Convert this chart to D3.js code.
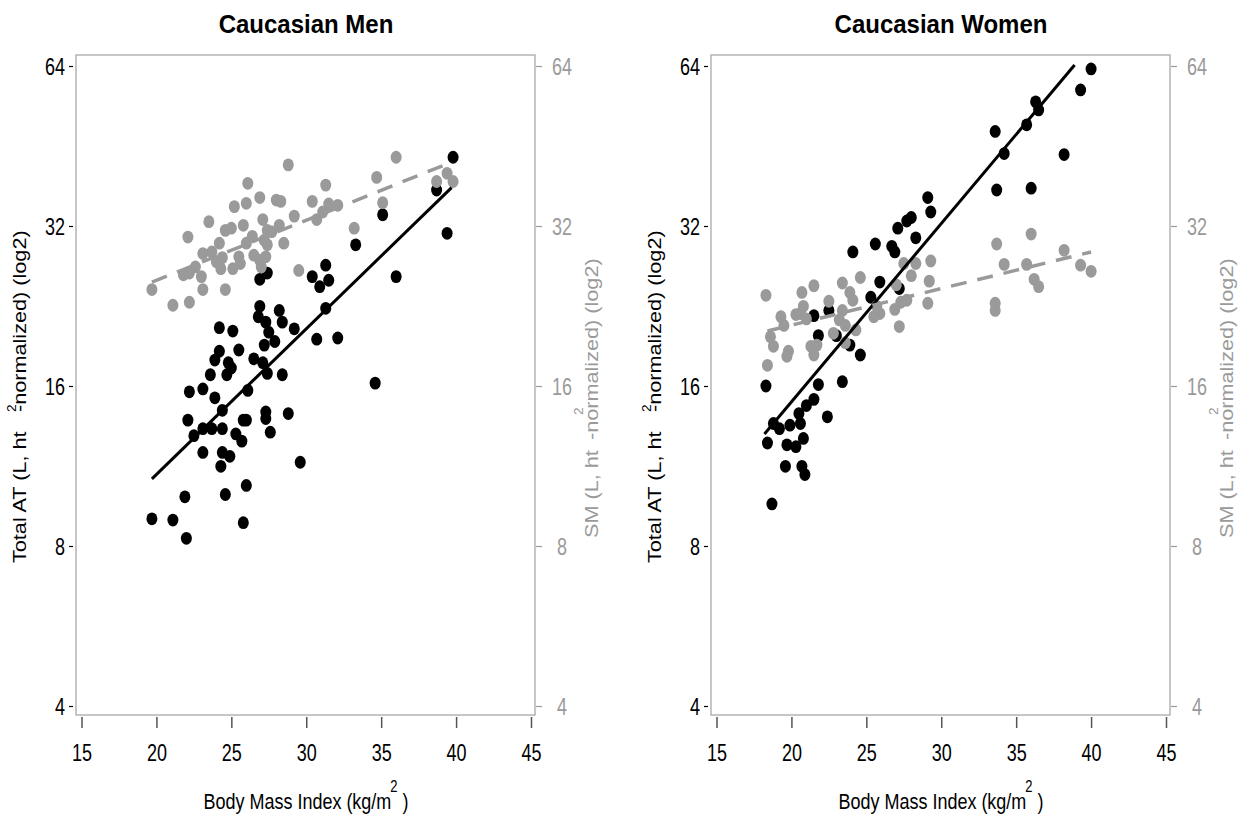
<!DOCTYPE html>
<html><head><meta charset="utf-8">
<script src="https://cdn.jsdelivr.net/npm/d3@7"></script>
<style>body{margin:0;background:#fff}svg{display:block}</style>
</head><body>
<svg id="c" width="1255" height="819"></svg>
<script>
// ---------- data ----------
const titles = ["Caucasian Men", "Caucasian Women"];
const xTicks = [15, 20, 25, 30, 35, 40, 45];
const yTicks = [4, 8, 16, 32, 64];

// Men: total adipose tissue (black)
const menATBMI = [39.8,38.7,39.4,35.1,33.3,36.0,31.3,30.4,31.5,30.9,27.4,26.9,31.3,26.9,26.8,27.3,27.5,28.2,28.4,29.2,30.7,32.1,24.2,25.1,27.2,27.9,25.5,24.2,23.9,24.8,25.0,26.5,27.1,27.4,28.4,24.7,23.6,22.2,23.1,23.9,26.1,24.4,22.1,22.5,23.1,23.7,24.4,25.8,26.0,25.3,25.7,27.3,27.3,28.8,27.6,23.1,24.4,24.9,24.3,29.6,34.6,26.0,24.6,21.9,19.7,21.1,22.0,25.8];
const menAT    = [43.1,37.4,31.0,33.6,29.5,25.7,27.0,25.7,25.3,24.6,26.1,25.4,22.4,22.6,21.6,21.1,20.2,22.2,21.1,20.5,19.6,19.7,20.6,20.3,19.1,19.4,18.7,18.6,17.9,17.7,17.3,18.0,17.7,16.9,16.8,16.8,16.8,15.6,15.8,15.2,15.7,14.4,13.8,12.9,13.3,13.3,13.3,13.8,13.8,13.0,12.6,14.3,13.9,14.2,13.1,12.0,12.0,11.8,11.3,11.5,16.2,10.4,10.0,9.9,9.0,8.95,8.27,8.85];
// Men: skeletal muscle (grey)
const menSMBMI = [19.7,21.1,22.2,22.1,21.8,22.2,23.0,23.1,24.6,23.5,23.1,23.7,24.0,24.3,24.2,24.6,25.0,25.2,26.0,26.1,26.9,25.8,26.0,25.5,25.1,26.5,27.1,27.4,27.2,27.4,26.9,27.3,27.0,28.0,28.3,28.2,28.5,27.7,28.8,29.2,29.5,30.4,30.7,31.1,31.3,31.5,32.1,33.2,34.7,35.1,36.0,38.7,39.4,39.8,24.4,25.6,22.6,26.4];
const menSM    = [24.3,22.7,23.0,30.5,25.9,26.1,25.7,24.3,24.3,32.6,28.4,28.6,27.4,26.6,29.7,31.4,31.7,34.8,35.3,38.5,36.2,32.1,29.7,28.0,26.6,28.2,32.9,31.4,30.1,29.5,27.6,28.0,26.8,35.8,35.6,32.1,29.7,31.2,41.7,33.4,26.4,35.6,32.9,34.0,38.2,35.2,35.0,31.7,39.5,35.4,43.1,38.8,40.2,38.8,27.9,27.2,26.8,30.6];

// Women: total adipose tissue (black)
const womenATBMI = [40.0,39.3,36.3,36.5,35.7,33.6,34.2,38.2,33.7,36.0,29.1,29.3,28.0,27.7,27.1,28.3,25.6,24.1,26.7,26.9,25.9,27.2,25.3,21.5,22.5,21.8,23.0,23.9,24.6,18.3,21.8,23.4,21.5,21.0,22.4,20.5,18.8,19.2,19.9,20.6,20.8,18.4,19.7,20.3,19.6,20.7,20.9,18.7];
const womenAT    = [63.2,57.7,54.8,52.9,49.6,48.2,43.8,43.6,37.4,37.7,36.2,34.0,33.2,32.7,31.7,30.4,29.6,28.6,29.3,28.6,25.1,24.4,23.5,21.7,22.2,19.9,19.9,19.1,18.3,16.0,16.1,16.3,15.1,14.7,14.0,14.2,13.6,13.3,13.5,13.6,12.75,12.5,12.4,12.3,11.3,11.3,10.9,9.6];
// Women: skeletal muscle (grey)
const womenSMBMI = [36.0,33.7,38.2,34.2,35.7,39.3,40.0,36.2,36.5,29.3,28.3,29.2,28.0,27.5,27.0,24.6,23.4,21.5,20.7,18.3,33.6,33.6,29.1,27.7,27.3,26.9,27.2,25.7,25.5,25.9,23.9,24.1,22.5,23.4,23.2,23.6,24.3,22.8,23.6,20.8,20.3,20.6,21.0,19.3,19.5,18.6,18.8,19.8,19.7,21.3,21.7,21.5,18.4];
const womenSM    = [30.9,29.6,28.8,27.1,27.1,27.0,26.3,25.4,24.6,27.5,27.2,25.2,25.8,27.2,24.8,25.6,25.0,24.7,24.0,23.7,22.9,22.2,22.9,23.2,23.0,22.3,20.7,22.6,21.6,21.9,24.0,23.2,23.1,22.2,21.3,20.8,20.4,20.1,19.3,22.6,21.8,21.9,21.4,21.6,20.8,19.8,19.0,18.6,18.2,19.0,19.1,18.3,17.5];

// fitted lines (BMI ends, fitted values)
const menATFitBMI = [19.7, 39.7], menATFitVal = [10.7, 37.8];
const menSMFitBMI = [19.7, 39.7], menSMFitVal = [25.1, 42.2];
const womenATFitBMI = [18.2, 38.9], womenATFitVal = [13.0, 64.3];
const womenSMFitBMI = [18.4, 40.0], womenSMFitVal = [20.3, 28.6];

// ---------- drawing ----------
const FONT = "'Liberation Sans', Arial, Helvetica, sans-serif";
const GREY = "#9a9a9a";
const svg = d3.select("#c");

const panels = [
  {x0: 76, title: titles[0], at: [menATBMI, menAT], sm: [menSMBMI, menSM],
   atFit: [menATFitBMI, menATFitVal], smFit: [menSMFitBMI, menSMFitVal]},
  {x0: 711, title: titles[1], at: [womenATBMI, womenAT], sm: [womenSMBMI, womenSM],
   atFit: [womenATFitBMI, womenATFitVal], smFit: [womenSMFitBMI, womenSMFitVal]}
];

function txt(g, x, y, s, o) {
  o = o || {};
  const k = o.k || 1;
  return g.append("text")
    .attr("transform", `translate(${x},${y}) scale(1,${k})` + (o.rot ? " rotate(-90)" : ""))
    .attr("font-family", FONT)
    .attr("font-size", o.size || 18)
    .attr("font-weight", o.weight || "normal")
    .attr("text-anchor", o.anchor || "start")
    .attr("fill", o.fill || "#000")
    .text(s);
}

panels.forEach(p => {
  const g = svg.append("g");
  const W = 459, top = 55, bottom = 715;
  const x1 = p.x0 + W;
  const x = d3.scaleLinear().domain([15, 45]).range([p.x0 + 5.5, p.x0 + 455]);
  const y = d3.scaleLog().base(2).domain([4, 64]).range([706, 66]);

  // frame
  g.append("rect").attr("x", p.x0).attr("y", top).attr("width", W).attr("height", bottom - top)
    .attr("fill", "none").attr("stroke", "#a8a8a8").attr("stroke-width", 1.3);

  // bottom axis
  const ax = g.append("g").attr("transform", "translate(0,717)")
    .call(d3.axisBottom(x).tickValues(xTicks).tickSize(11).tickFormat(d3.format("d")));
  ax.select(".domain").remove();
  ax.selectAll(".tick line").attr("stroke", "#555").attr("stroke-width", 1.5);
  ax.selectAll(".tick text").attr("y", null).attr("dy", null)
    .attr("transform", "translate(0,43.5) scale(1,1.3)")
    .attr("font-family", FONT).attr("font-size", 18).attr("fill", "#000");

  // left axis
  const al = g.append("g").attr("transform", `translate(${p.x0 - 3},0)`)
    .call(d3.axisLeft(y).tickValues(yTicks).tickSize(4).tickFormat(d3.format("d")));
  al.select(".domain").remove();
  al.selectAll(".tick line").attr("stroke", "#000").attr("stroke-width", 1.2);
  al.selectAll(".tick text").attr("x", null).attr("dy", null)
    .attr("transform", "translate(-8,8.4) scale(1,1.3)")
    .attr("font-family", FONT).attr("font-size", 18).attr("fill", "#000");

  // right axis (grey)
  const ar = g.append("g").attr("transform", `translate(${x1 + 1},0)`)
    .call(d3.axisRight(y).tickValues(yTicks).tickSize(6).tickFormat(d3.format("d")));
  ar.select(".domain").remove();
  ar.selectAll(".tick line").attr("stroke", GREY).attr("stroke-width", 1.2);
  ar.selectAll(".tick text").attr("x", null).attr("dy", null)
    .attr("text-anchor", "middle")
    .attr("transform", "translate(26,8.4) scale(1,1.3)")
    .attr("font-family", FONT).attr("font-size", 18).attr("fill", GREY);

  // points
  const atPts = d3.zip(p.at[0], p.at[1]);
  const smPts = d3.zip(p.sm[0], p.sm[1]);
  g.append("g").selectAll("ellipse").data(atPts).join("ellipse")
    .attr("cx", d => x(d[0])).attr("cy", d => y(d[1])).attr("rx", 5.5).attr("ry", 6.4).attr("fill", "#000");
  g.append("g").selectAll("ellipse").data(smPts).join("ellipse")
    .attr("cx", d => x(d[0])).attr("cy", d => y(d[1])).attr("rx", 5.5).attr("ry", 6.4).attr("fill", GREY);

  // fitted lines
  const line = d3.line().x(d => x(d[0])).y(d => y(d[1]));
  g.append("path").attr("d", line(d3.zip(p.atFit[0], p.atFit[1])))
    .attr("fill", "none").attr("stroke", "#000").attr("stroke-width", 3);
  g.append("path").attr("d", line(d3.zip(p.smFit[0], p.smFit[1])))
    .attr("fill", "none").attr("stroke", GREY).attr("stroke-width", 3.5).attr("stroke-dasharray", "16,11");

  // title
  txt(g, p.x0 + 230, 33, p.title, {size: 24, weight: "bold", anchor: "middle", k: 1.07});

  // x title
  const xt = txt(g, p.x0 + 230, 809, "Body Mass Index (kg/m", {size: 18, anchor: "middle", k: 1.25});
  xt.append("tspan").attr("dy", -14).attr("dx", -1).attr("font-size", 13).text("2");
  xt.append("tspan").attr("dy", 14).text(" )");

  // left y title
  const lx = p.x0 - 50;
  txt(g, lx, 563, "Total AT (L, ht", {size: 19, rot: true, k: 1.14});
  txt(g, lx, 412, "-normalized) (log2)", {size: 19, rot: true, k: 1.14});
  txt(g, lx - 10.5, 412, "2", {size: 12, rot: true, k: 1.14});

  // right y title (grey)
  const rx = x1 + 63;
  txt(g, rx, 538, "SM (L, ht", {size: 19, rot: true, k: 1.14, fill: GREY});
  txt(g, rx, 440, "-normalized) (log2)", {size: 19, rot: true, k: 1.14, fill: GREY});
  txt(g, rx - 15, 415, "2", {size: 12, rot: true, k: 1.14, fill: GREY});
});
</script>
</body></html>
